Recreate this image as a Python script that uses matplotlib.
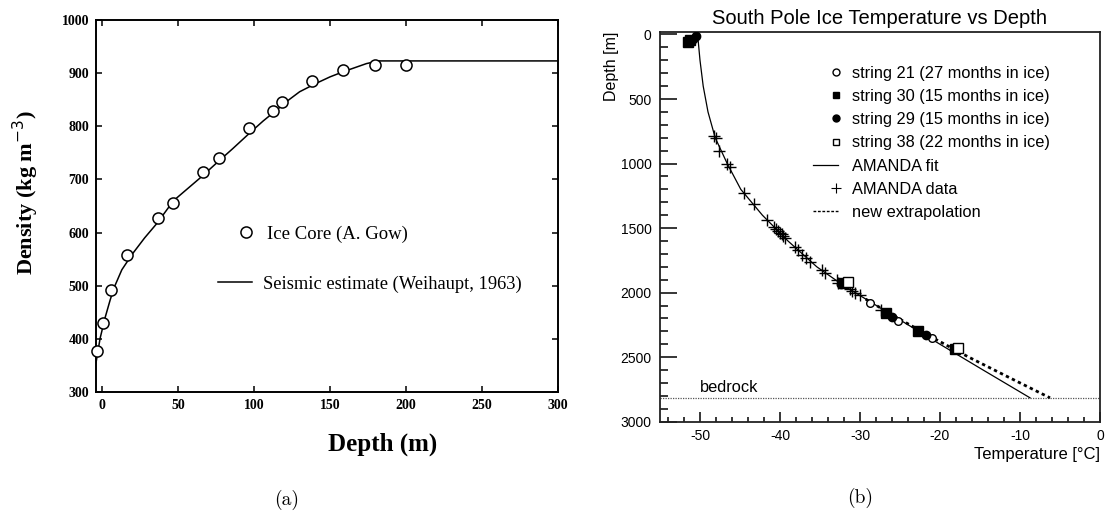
import numpy as np
import matplotlib
matplotlib.use("Agg")
import matplotlib.pyplot as plt
from matplotlib.lines import Line2D
from matplotlib.legend_handler import HandlerLine2DCompound
from matplotlib.ticker import MultipleLocator

plt.rcParams["axes.unicode_minus"] = False

# ---------------- panel (a): firn density vs depth ----------------
core_depth = [-3.5, 0.5, 5.7, 16.4, 36.8, 46.7, 66.4, 77.0, 97.0, 112.5, 118.4, 138.0, 158.5, 179.6, 199.8]
core_density = [378, 430, 491, 558, 627, 655, 714, 741, 797, 828, 845, 885, 905, 915, 915]

seismic_depth = [-4, -1.3, 2, 5.3, 8, 13, 20, 28, 36, 47, 56, 65, 75, 86, 97, 106, 115, 123,
                 130, 141, 150, 159, 167, 174, 182, 300]
seismic_density = [355, 401, 440, 473, 497, 530, 560, 590, 617, 660, 682, 704, 730, 758, 787, 810,
                   831, 850, 865, 881, 893, 903, 911, 918, 923, 923]

# ---------------- panel (b): South Pole ice temperature ----------------
fit_depth = [0, 200, 400, 600, 800, 1000, 1200, 1400, 1600, 1800, 1930, 2000, 2200, 2400, 2600, 2815]
fit_temp = [-50.3, -50.0, -49.6, -49.0, -48.1, -46.6, -44.9, -42.2, -39.0, -35.4, -32.4, -30.6,
            -25.3, -20.0, -14.6, -8.75]

extrap_depth = [2050, 2200, 2350, 2500, 2650, 2815]
extrap_temp = [-29.3, -25.2, -20.9, -16.4, -11.6, -6.25]

string21_temp = [-28.8, -25.2, -21.0]
string21_depth = [2083, 2217, 2354]
string30_temp = [-51.2, -51.5, -32.1, -26.7, -22.7, -18.1]
string30_depth = [42, 62, 1925, 2158, 2300, 2437]
string29_temp = [-50.5, -50.9, -51.3, -32.4, -26.0, -21.7, -18.3]
string29_depth = [15, 32, 52, 1935, 2186, 2328, 2440]
string38_temp = [-31.5, -17.7]
string38_depth = [1918, 2431]

amanda_temp = [-48.2, -48.0, -47.6, -46.6, -46.2, -44.5, -43.2, -41.6, -40.8, -40.5, -40.2, -40.0,
               -39.8, -39.6, -39.4, -38.1, -37.8, -37.3, -36.7, -36.3, -34.8, -34.4, -32.9, -32.7,
               -31.3, -31.0, -30.6, -30.0, -27.4]
amanda_depth = [785, 800, 905, 1005, 1025, 1225, 1315, 1435, 1490, 1505, 1520, 1535, 1545, 1560,
                1578, 1645, 1668, 1705, 1735, 1760, 1825, 1850, 1905, 1925, 1975, 1988, 2000, 2020, 2132]

bedrock_depth = 2815

SERIF = "Liberation Serif"
SANS = "Liberation Sans"

fig = plt.figure(figsize=(11.08, 5.2), dpi=100)
fig.patch.set_facecolor("white")

# ---------- (a) ----------
ax1 = fig.add_axes([96 / 1108, 1 - 392 / 520, 462 / 1108, 372 / 520])
ax1.plot(seismic_depth, seismic_density, color="black", lw=1.1, zorder=2)
ax1.plot(core_depth, core_density, ls="none", marker="o", ms=8, mfc="white", mec="black",
         mew=1.1, zorder=3, clip_on=False)
ax1.set_xlim(-4, 300)
ax1.set_ylim(300, 1000)
ax1.xaxis.set_major_locator(MultipleLocator(50))
ax1.yaxis.set_major_locator(MultipleLocator(100))
ax1.tick_params(direction="in", top=True, right=True, length=4, width=1.1, pad=5)
for lab in ax1.get_xticklabels() + ax1.get_yticklabels():
    lab.set_fontfamily(SERIF)
    lab.set_fontweight("bold")
    lab.set_fontsize(10)
for sp in ax1.spines.values():
    sp.set_linewidth(1.4)
ax1.set_xlabel("Depth (m)", fontfamily=SERIF, fontweight="bold", fontsize=18)
ax1.xaxis.set_label_coords(0.62, -0.108)
ax1.set_ylabel("Density (kg m$^{-3}$)", fontfamily=SERIF, fontweight="bold", fontsize=16)
ax1.yaxis.set_label_coords(-0.12, 0.537)

h_core = Line2D([], [], ls="none", marker="o", ms=8, mfc="white", mec="black", mew=1.1)
h_seis = Line2D([], [], color="black", lw=1.1)
leg_a1 = ax1.legend([h_core], ["Ice Core (A. Gow)"], loc="center left",
                    bbox_to_anchor=(0.268, 0.425), frameon=False,
                    prop={"family": SERIF, "size": 13.5}, handlelength=1.0, handletextpad=0.6)
ax1.add_artist(leg_a1)
ax1.legend([h_seis], ["Seismic estimate (Weihaupt, 1963)"], loc="center left",
           bbox_to_anchor=(0.229, 0.29), frameon=False,
           prop={"family": SERIF, "size": 13.3}, handlelength=1.8, handletextpad=0.6)

# ---------- (b) ----------
ax2 = fig.add_axes([660 / 1108, 1 - 421.7 / 520, 440 / 1108, (421.7 - 31.9) / 520])
ax2.set_xlim(-55, 0)
ax2.set_ylim(3000, -20)

ax2.axhline(bedrock_depth, color="#555555", lw=0.9, ls=(0, (1, 1)), zorder=1)
ax2.text(-50, bedrock_depth - 25, "bedrock", fontfamily=SANS, fontsize=11.8, va="bottom", ha="left")

ax2.plot(fit_temp, fit_depth, color="black", lw=0.9, zorder=2)
ax2.plot(extrap_temp, extrap_depth, color="black", lw=2.0, ls=(0, (1.2, 1.2)), zorder=2)

mk = dict(ls="none", mec="black", mew=1.0, zorder=4)
ax2.plot(amanda_temp, amanda_depth, marker="+", ms=9, color="black", mew=1.0, ls="none", zorder=3)
ax2.plot(string21_temp, string21_depth, marker="o", ms=5.5, mfc="white", **mk)
ax2.plot(string30_temp, string30_depth, marker="s", ms=6.5, mfc="black", **mk)
ax2.plot(string29_temp, string29_depth, marker="o", ms=6, mfc="black", **mk)
ax2.plot(string38_temp, string38_depth, marker="s", ms=6.5, mfc="white", **mk)

ax2.xaxis.set_major_locator(MultipleLocator(10))
ax2.xaxis.set_minor_locator(MultipleLocator(2))
ax2.yaxis.set_major_locator(MultipleLocator(500))
ax2.yaxis.set_minor_locator(MultipleLocator(100))
ax2.tick_params(axis="x", which="major", direction="in", length=7.5, width=1.1, pad=5)
ax2.tick_params(axis="x", which="minor", direction="in", length=3.8, width=1.1)
ax2.tick_params(axis="y", which="major", direction="in", length=12, width=1.1, pad=6)
ax2.tick_params(axis="y", which="minor", direction="in", length=6, width=1.1)
for lab in ax2.get_xticklabels() + ax2.get_yticklabels():
    lab.set_fontfamily(SANS)
    lab.set_fontsize(10)
for sp in ax2.spines.values():
    sp.set_linewidth(1.3)
    sp.set_color("#222222")

ax2.set_title("South Pole Ice Temperature vs Depth", fontfamily=SANS, fontsize=14.5, pad=6)
ax2.set_xlabel("Temperature [°C]", fontfamily=SANS, fontsize=12, loc="right", labelpad=3)
ax2.set_ylabel("Depth [m]", fontfamily=SANS, fontsize=11.5, loc="top", labelpad=1)


class MarkerAtEnd(HandlerLine2DCompound):
    """Legend handler placing the single marker near the right end of the handle."""

    def get_xdata(self, legend, xdescent, ydescent, width, height, fontsize):
        xdata = np.array([-xdescent, -xdescent + width])
        return xdata, np.array([-xdescent + 0.92 * width])


handles = [
    Line2D([], [], ls="none", marker="o", ms=5, mfc="white", mec="black", mew=1.0),
    Line2D([], [], ls="none", marker="s", ms=5, mfc="black", mec="black", mew=1.0),
    Line2D([], [], ls="none", marker="o", ms=5, mfc="black", mec="black", mew=1.0),
    Line2D([], [], ls="none", marker="s", ms=5, mfc="white", mec="black", mew=1.0),
    Line2D([], [], color="black", lw=0.9),
    Line2D([], [], ls="none", marker="+", ms=7, color="black", mew=0.8),
    Line2D([], [], color="black", lw=1.0, ls=(0, (2, 1.2))),
]
labels = [
    "string 21 (27 months in ice)",
    "string 30 (15 months in ice)",
    "string 29 (15 months in ice)",
    "string 38 (22 months in ice)",
    "AMANDA fit",
    "AMANDA data",
    "new extrapolation",
]
ax2.legend(handles, labels, loc="upper left", bbox_to_anchor=(0.333, 0.93), frameon=False,
           prop={"family": SANS, "size": 11.8}, handlelength=1.52, handletextpad=0.85,
           labelspacing=0.5, borderaxespad=0, handler_map={Line2D: MarkerAtEnd(numpoints=1)})

# ---------- captions ----------
fig.text(287 / 1108, 1 - 500 / 520, "(a)", fontfamily="cmr10", fontsize=14, ha="center", va="center")
fig.text(860 / 1108, 1 - 498 / 520, "(b)", fontfamily="cmr10", fontsize=14, ha="center", va="center")

fig.savefig("out.png", dpi=100, facecolor="white")
